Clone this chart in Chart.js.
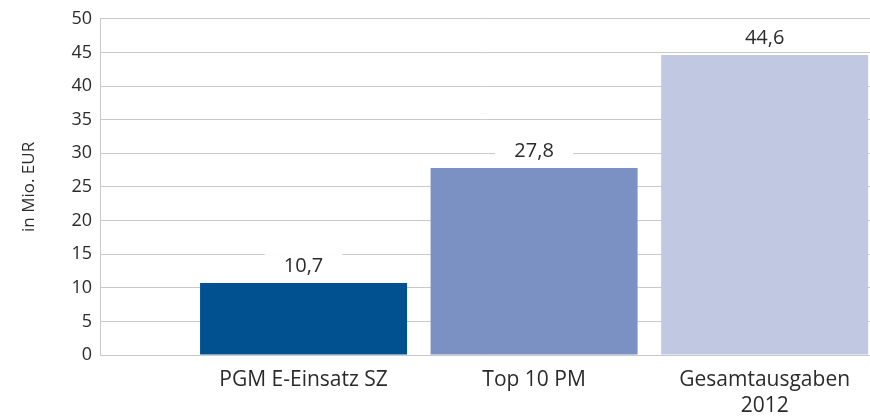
<!DOCTYPE html>
<html>
<head>
<meta charset="utf-8">
<script src="https://cdn.jsdelivr.net/npm/chart.js@4/dist/chart.umd.min.js"></script>
<style>
html,body{margin:0;padding:0;background:#fff;}
#wrap{width:870px;height:417px;}
</style>
</head>
<body>
<div id="wrap"><canvas id="c" width="870" height="417"></canvas></div>
<script>
const categories = [["PGM E-Einsatz SZ"], ["Top 10 PM"], ["Gesamtausgaben", "2012"]];
const values = [10.7, 27.8, 44.6];
const valueLabels = ["10,7", "27,8", "44,6"];
const barColors = ["#015190", "#7b90c3", "#c1c8e2"];
const yTicks = [0, 5, 10, 15, 20, 25, 30, 35, 40, 45, 50];
const yTitle = "in Mio. EUR";

const FONT = "'Open Sans', sans-serif";
const TEXT = "#2b2b2b";

const labelPlugin = {
  id: 'valueLabels',
  afterDatasetsDraw(chart) {
    const ctx = chart.ctx;
    const meta = chart.getDatasetMeta(0);
    ctx.save();
    ctx.font = "20px " + FONT;
    ctx.textAlign = 'center';
    ctx.textBaseline = 'middle';
    meta.data.forEach((bar, i) => {
      const cx = bar.x;
      const cy = bar.y - 17;
      ctx.fillStyle = '#ffffff';
      ctx.fillRect(cx - 39, cy - 12, 78, 24);
      ctx.fillStyle = TEXT;
      ctx.fillText(valueLabels[i], cx, cy);
    });
    ctx.restore();
  }
};

new Chart(document.getElementById('c'), {
  type: 'bar',
  data: {
    datasets: [{
      data: values.map((v, i) => ({x: i + 1, y: v})),
      backgroundColor: barColors,
      borderWidth: 0,
      categoryPercentage: 1,
      barPercentage: 0.898
    }]
  },
  options: {
    responsive: false,
    animation: false,
    devicePixelRatio: 1,
    layout: {padding: {top: 16, right: 0, left: 0, bottom: 0}},
    plugins: {legend: {display: false}, tooltip: {enabled: false}},
    scales: {
      x: {
        type: 'linear',
        offset: false,
        min: 0.117,
        max: 3.457,
        afterBuildTicks(scale) {
          scale.ticks = categories.map((c, i) => ({value: i + 1}));
        },
        afterFit(scale) { scale.height = 62; },
        grid: {display: false, drawTicks: false, offset: false},
        border: {display: false},
        ticks: {
          autoSkip: false,
          maxRotation: 0,
          padding: 12,
          color: TEXT,
          font: {family: FONT, size: 21, lineHeight: 1.25},
          callback: (v) => {
            const idx = Math.round(v) - 1;
            return categories[idx] || '';
          }
        }
      },
      y: {
        min: 0,
        max: 50,
        afterBuildTicks(scale) {
          scale.ticks = yTicks.map(v => ({value: v}));
        },
        afterFit(scale) { scale.width = 100; },
        grid: {color: '#c9c9c9', lineWidth: 1, drawTicks: false},
        border: {display: true, color: '#c9c9c9'},
        ticks: {
          padding: 8,
          color: TEXT,
          font: {family: FONT, size: 18}
        },
        title: {
          display: true,
          text: yTitle,
          color: TEXT,
          font: {family: FONT, size: 17},
          padding: {top: 19, bottom: 0}
        }
      }
    }
  },
  plugins: [labelPlugin]
});
</script>
</body>
</html>
